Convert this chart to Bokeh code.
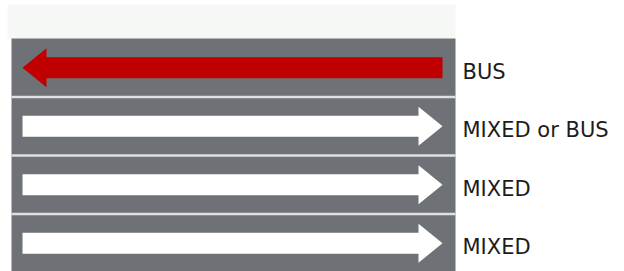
from bokeh.plotting import figure
from bokeh.models import Range1d
from bokeh.embed import file_html
from bokeh.resources import INLINE
from bokeh.core.properties import value

# ---- data ----
lane_labels = ["BUS", "MIXED or BUS", "MIXED", "MIXED"]
lane_directions = [-1, 1, 1, 1]          # -1 = towards left, 1 = towards right
arrow_colors = ["#c00000", "#ffffff", "#ffffff", "#ffffff"]

# ---- geometry (pixel-like units, origin = top-left of figure) ----
W, H = 624, 271
road_left, road_right = 11, 455
road_top = 38
lane_pitch = 58.5
arrow_left, arrow_right = 22, 442
shaft_half = 10.5
head_half = 19.5
head_len = 24

p = figure(width=W, height=H, output_backend="svg", toolbar_location=None,
           x_range=Range1d(0, W), y_range=Range1d(H, 0),
           min_border=0, background_fill_color="white", border_fill_color="white")
p.axis.visible = False
p.grid.visible = False
p.outline_line_color = None

n = len(lane_labels)
# faint top strip
p.quad(left=[road_left - 4], right=[road_right], top=[4], bottom=[road_top],
       fill_color="#f5f8f5", line_color=None)
# road
p.quad(left=[road_left], right=[road_right], top=[road_top],
       bottom=[road_top + lane_pitch * n], fill_color="#6e7175", line_color=None)
# separators
seps = [road_top + lane_pitch * (i + 1) for i in range(n - 1)]
p.segment(x0=[road_left] * len(seps), x1=[road_right] * len(seps), y0=seps, y1=seps,
          line_color="#dfe1e1", line_width=2.5)

xs, ys = [], []
for i, d in enumerate(lane_directions):
    cy = road_top + lane_pitch * (i + 0.5)
    if d > 0:
        tail, tip = arrow_left, arrow_right
        base = tip - head_len
    else:
        tail, tip = arrow_right, arrow_left
        base = tip + head_len
    xs.append([tail, base, base, tip, base, base, tail])
    ys.append([cy - shaft_half, cy - shaft_half, cy - head_half, cy,
               cy + head_half, cy + shaft_half, cy + shaft_half])
p.patches(xs=xs, ys=ys, fill_color=arrow_colors, line_color=None)

label_y = [road_top + lane_pitch * (i + 0.5) + 4 for i in range(n)]
p.text(x=[road_right + 7] * n, y=label_y, text=lane_labels,
       text_font=value("DejaVu Sans"), text_font_size="21px",
       text_color="#1c1c1c", text_baseline="middle", text_align="left")

open("out.html", "w").write(file_html(p, INLINE))
